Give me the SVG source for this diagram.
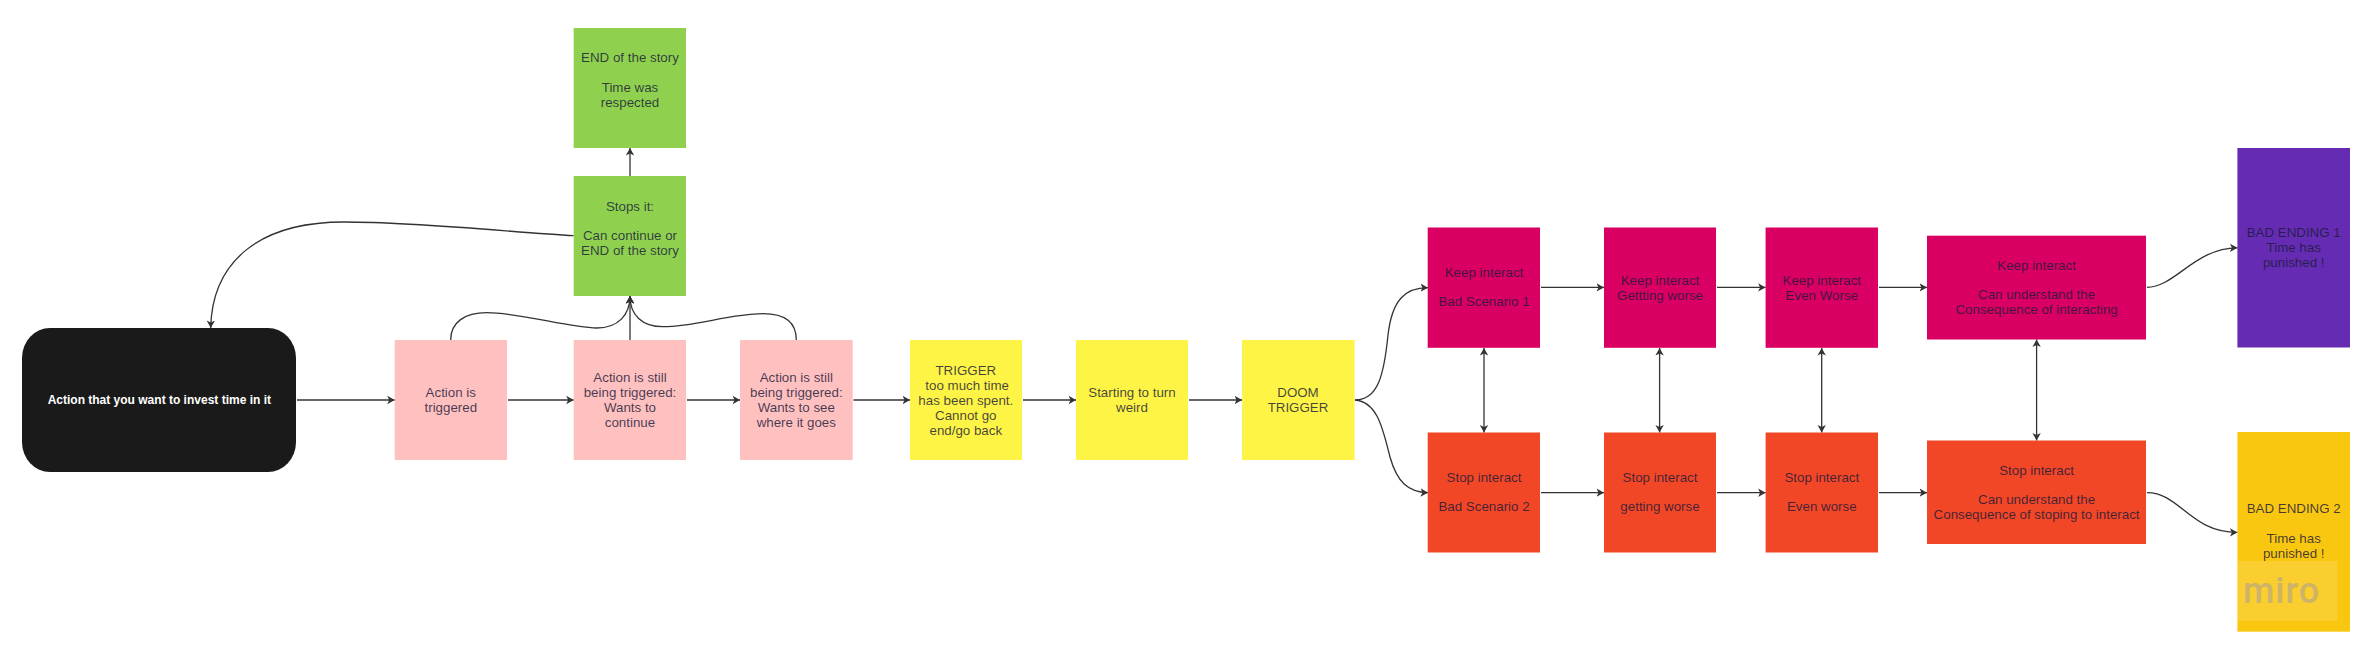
<svg xmlns="http://www.w3.org/2000/svg" width="2374" height="658" viewBox="0 0 2374 658">
<style>
.t{font-family:"Liberation Sans",Arial,sans-serif;font-size:13.33px;fill:#1a1a3a;fill-opacity:.82;text-anchor:middle}
.w{font-family:"Liberation Sans",Arial,sans-serif;font-size:12px;font-weight:700;fill:#fff;text-anchor:middle}
.c{fill:none;stroke:#333;stroke-width:1.3}
.a{marker-end:url(#h)}
.b{marker-start:url(#hs);marker-end:url(#h)}
.pink{fill:#ffc0c0}.green{fill:#8fd14f}.yellow{fill:#fef445}.mag{fill:#da0063}.org{fill:#f24726}
</style>
<defs>
<marker id="h" markerUnits="userSpaceOnUse" markerWidth="10" markerHeight="10" refX="7.5" refY="5" orient="auto"><path d="M0,0.8 L7.5,5 L0,9.2 L2,5 Z" fill="#333"/></marker>
<marker id="hs" markerUnits="userSpaceOnUse" markerWidth="10" markerHeight="10" refX="2.5" refY="5" orient="auto"><path d="M10,0.8 L2.5,5 L10,9.2 L8,5 Z" fill="#333"/></marker>
</defs>
<rect width="2374" height="658" fill="#fff"/>
<g id="connectors">
<path class="c a" d="M297,400H394.7"/>
<path class="c a" d="M508,400H573.7"/>
<path class="c a" d="M687,400H740"/>
<path class="c a" d="M853.5,400H910"/>
<path class="c a" d="M1023,400H1076"/>
<path class="c a" d="M1189,400H1242"/>
<path class="c a" d="M630,340V296"/>
<path class="c a" d="M630,176V148"/>
<path class="c a" d="M450.7,340C450.7,322 465,312.7 486.7,312.7C520,312.7 570,328 596.7,328C618,328 630,315 630,296"/>
<path class="c a" d="M796.3,340C796.3,322 785,313.7 763,313.7C730,313.7 695,326.7 663,326.7C642,326.7 630,315 630,296"/>
<path class="c a" d="M573.7,235.7C520,233 420,222 344,222C255,222 212,265 210.7,328"/>
<path class="c a" d="M1355,400C1378,400 1384,375 1388,335C1392,300 1405,287.7 1428,287.7"/>
<path class="c a" d="M1355,400C1378,402 1383,430 1390,457C1397,482 1408,492 1428,492.7"/>
<path class="c a" d="M1541,287.4H1604"/>
<path class="c a" d="M1717,287.4H1765.6"/>
<path class="c a" d="M1879,287.4H1927"/>
<path class="c a" d="M1541,492.7H1604"/>
<path class="c a" d="M1717,492.7H1765.6"/>
<path class="c a" d="M1879,492.7H1927"/>
<path class="c b" d="M1484,348V432.5"/>
<path class="c b" d="M1659.6,348V432.5"/>
<path class="c b" d="M1821.7,348V432.5"/>
<path class="c b" d="M2036.6,339.5V440.5"/>
<path class="c a" d="M2147,287.3C2175,287.3 2195,247.8 2237.4,247.8"/>
<path class="c a" d="M2147,492.6C2180,492.6 2190,532.4 2237.4,532.4"/>
</g>
<g id="start"><rect x="22" y="328" width="274" height="144" rx="28" ry="30" fill="#1a1a1a"/><text class="w" x="159.3" y="404">Action that you want to invest time in it</text></g>
<g id="end-story"><rect class="green" x="573.7" y="28" width="112.3" height="120"/><text class="t" x="630" y="62">END of the story</text><text class="t" x="630" y="92">Time was</text><text class="t" x="630" y="107">respected</text></g>
<g id="stops"><rect class="green" x="573.7" y="176" width="112.3" height="120"/><text class="t" x="630" y="210.5">Stops it:</text><text class="t" x="630" y="239.5">Can continue or</text><text class="t" x="630" y="254.5">END of the story</text></g>
<g id="action1"><rect class="pink" x="394.7" y="340" width="112.3" height="120"/><text class="t" x="450.8" y="396.5">Action is</text><text class="t" x="450.8" y="411.5">triggered</text></g>
<g id="action2"><rect class="pink" x="573.7" y="340" width="112.3" height="120"/><text class="t" x="630" y="381.5">Action is still</text><text class="t" x="630" y="396.5">being triggered:</text><text class="t" x="630" y="411.5">Wants to</text><text class="t" x="630" y="426.5">continue</text></g>
<g id="action3"><rect class="pink" x="740" y="340" width="112.7" height="120"/><text class="t" x="796.3" y="381.5">Action is still</text><text class="t" x="796.3" y="396.5">being triggered:</text><text class="t" x="796.3" y="411.5">Wants to see</text><text class="t" x="796.3" y="426.5">where it goes</text></g>
<g id="trigger"><rect class="yellow" x="910" y="340" width="112" height="120"/><text class="t" x="965.8" y="374.5">TRIGGER</text><text class="t" x="967.2" y="389.5">too much time</text><text class="t" x="965.8" y="404.5">has been spent.</text><text class="t" x="965.8" y="419.5">Cannot go</text><text class="t" x="965.8" y="434.5">end/go back</text></g>
<g id="weird"><rect class="yellow" x="1076" y="340" width="112" height="120"/><text class="t" x="1132" y="396.5">Starting to turn</text><text class="t" x="1132" y="411.5">weird</text></g>
<g id="doom"><rect class="yellow" x="1242" y="340" width="112.5" height="120"/><text class="t" x="1298" y="396.5">DOOM</text><text class="t" x="1298" y="411.5">TRIGGER</text></g>
<g id="keep1"><rect class="mag" x="1427.7" y="227.5" width="112.3" height="120.3"/><text class="t" x="1484" y="276.5">Keep interact</text><text class="t" x="1484" y="306">Bad Scenario 1</text></g>
<g id="stop1"><rect class="org" x="1427.7" y="432.5" width="112.3" height="120"/><text class="t" x="1484" y="481.5">Stop interact</text><text class="t" x="1484" y="511">Bad Scenario 2</text></g>
<g id="keep2"><rect class="mag" x="1604" y="227.5" width="112" height="120.3"/><text class="t" x="1660" y="284.5">Keep interact</text><text class="t" x="1660" y="299.5">Gettting worse</text></g>
<g id="stop2"><rect class="org" x="1604" y="432.5" width="112" height="120"/><text class="t" x="1660" y="481.5">Stop interact</text><text class="t" x="1660" y="511">getting worse</text></g>
<g id="keep3"><rect class="mag" x="1765.6" y="227.5" width="112.4" height="120.3"/><text class="t" x="1821.8" y="284.5">Keep interact</text><text class="t" x="1821.8" y="299.5">Even Worse</text></g>
<g id="stop3"><rect class="org" x="1765.6" y="432.5" width="112.4" height="120"/><text class="t" x="1821.8" y="481.5">Stop interact</text><text class="t" x="1821.8" y="511">Even worse</text></g>
<g id="keep4"><rect class="mag" x="1927" y="235.7" width="219" height="103.8"/><text class="t" x="2036.6" y="269.5">Keep interact</text><text class="t" x="2036.6" y="299">Can understand the</text><text class="t" x="2036.6" y="314">Consequence of interacting</text></g>
<g id="stop4"><rect class="org" x="1927" y="440.5" width="219" height="103.5"/><text class="t" x="2036.6" y="474.5">Stop interact</text><text class="t" x="2036.6" y="504">Can understand the</text><text class="t" x="2036.6" y="519">Consequence of stoping to interact</text></g>
<g id="bad1"><rect x="2237.4" y="148" width="112.6" height="199.5" fill="#652cb3"/><text class="t" x="2293.7" y="237">BAD ENDING 1</text><text class="t" x="2293.7" y="252">Time has</text><text class="t" x="2293.7" y="267">punished !</text></g>
<g id="bad2"><rect x="2237.4" y="432" width="112.6" height="199.7" fill="#fac710"/><text class="t" x="2293.7" y="513">BAD ENDING 2</text><text class="t" x="2293.7" y="543">Time has</text><text class="t" x="2293.7" y="558">punished !</text></g>
<g id="watermark"><rect x="2237.4" y="561" width="100" height="59.7" fill="#fff" fill-opacity="0.13"/><text x="2243" y="602.7" font-family="Roboto,'Liberation Sans',sans-serif" font-size="36" font-weight="500" letter-spacing="1" fill="#cdb468">miro</text></g>
</svg>
